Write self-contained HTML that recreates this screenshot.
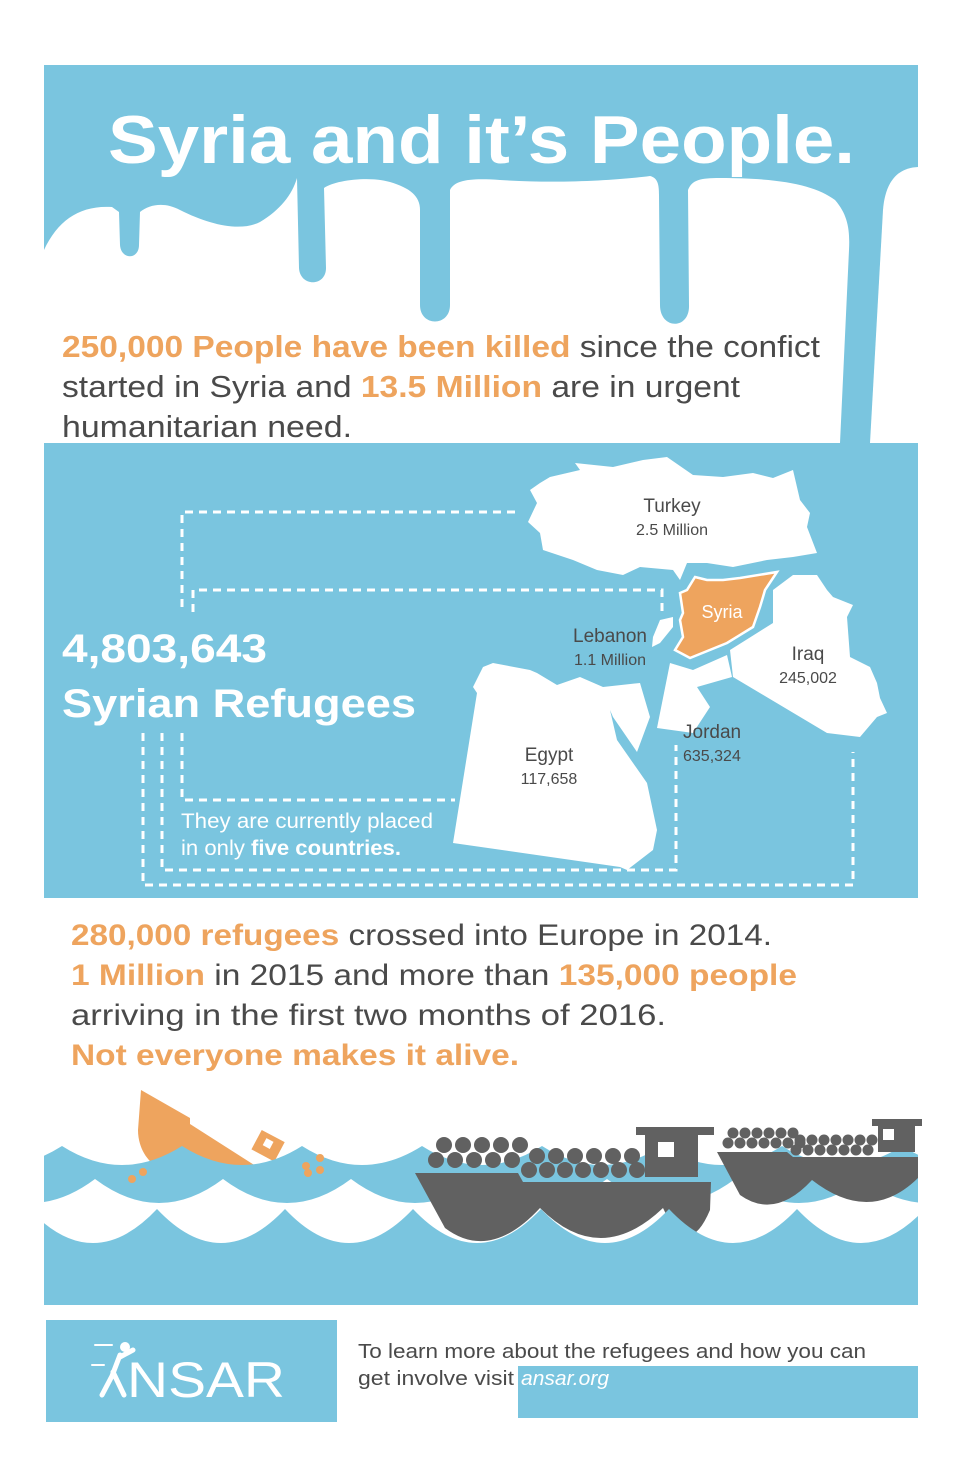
<!DOCTYPE html>
<html><head><meta charset="utf-8"><title>Syria and it's People</title>
<style>
html,body{margin:0;padding:0;background:#fff;}
svg{display:block;font-family:"Liberation Sans",sans-serif;}
</style></head>
<body>
<svg id="info" width="960" height="1484" viewBox="0 0 960 1484" xmlns="http://www.w3.org/2000/svg">
<rect x="0" y="0" width="960" height="1484" fill="#fff"/>

<!-- Header -->
<g>
<rect x="44" y="65" width="874" height="378" fill="#7ac5df"/>
<path fill="#fff" d="M44,443 L44,250 C58,220 80,205 112,207 L119,212 L120,245 C121,260 139,260 139,245 L140,212 C150,204 165,202 180,210 C210,225 240,232 260,222 C280,210 292,195 297,178 L299,268 C300,287 326,287 326,268 L324,188 C335,180 370,176 390,182 C410,188 420,196 420,210 L420,305 C420,327 450,327 450,305 L450,190 C455,180 470,178 500,180 C560,184 620,180 650,176 C658,178 659,185 659,195 L660,305 C660,330 690,330 689,305 L688,190 C692,180 700,178 720,178 C780,178 815,185 835,200 C848,215 850,230 849,250 L840,443 Z"/>
<path fill="#fff" d="M918,167 C895,168 885,185 883,210 L870,443 L918,443 Z"/>
<text x="108" y="163" font-size="68" font-weight="bold" fill="#fff" textLength="747" lengthAdjust="spacingAndGlyphs">Syria and it’s People.</text>
<g font-size="31" fill="#4a4a4a">
<text x="62" y="357" textLength="758" lengthAdjust="spacingAndGlyphs"><tspan fill="#eea45e" font-weight="bold">250,000 People have been killed</tspan> since the confict</text>
<text x="62" y="397" textLength="678" lengthAdjust="spacingAndGlyphs">started in Syria and <tspan fill="#eea45e" font-weight="bold">13.5 Million</tspan> are in urgent</text>
<text x="62" y="437" textLength="290" lengthAdjust="spacingAndGlyphs">humanitarian need.</text>
</g>
</g>

<!-- Map section -->
<g>
<rect x="44" y="443" width="874" height="455" fill="#7ac5df"/>
<g fill="none" stroke="#fff" stroke-width="3" stroke-dasharray="8,6">
<path d="M515,512 L182,512 L182,612"/>
<path d="M193,612 L193,590 L662,590 L662,612"/>
<path d="M182,733 L182,800 L455,800"/>
<path d="M162,733 L162,870 L676,870 L676,745"/>
<path d="M143,733 L143,885 L853,885 L853,752"/>
</g>
<text x="62" y="662" font-size="40" font-weight="bold" fill="#fff" textLength="205" lengthAdjust="spacingAndGlyphs">4,803,643</text>
<text x="62" y="717" font-size="40" font-weight="bold" fill="#fff" textLength="354" lengthAdjust="spacingAndGlyphs">Syrian Refugees</text>
<text x="181" y="828" font-size="21" fill="#fff" textLength="252" lengthAdjust="spacingAndGlyphs">They are currently placed</text>
<text x="181" y="855" font-size="21" fill="#fff" textLength="220" lengthAdjust="spacingAndGlyphs">in only <tspan font-weight="bold">five countries.</tspan></text>

<polygon fill="#fff" points="575,463 613,467 643,460 667,457 693,475 723,477 753,473 773,478 793,470 800,500 810,513 807,527 817,553 793,557 767,560 733,567 707,563 687,563 680,580 673,570 640,567 623,575 597,570 573,560 543,550 540,533 528,522 537,503 530,490 540,483 550,477 580,470"/>
<polygon fill="#fff" points="660,620 673,617 673,627 660,643 652,647 653,637"/>
<polygon fill="#fff" points="793,575 817,575 827,590 833,597 853,605 847,617 850,657 870,667 877,683 880,698 887,713 877,717 860,737 827,733 733,677 730,650 773,623 773,590"/>
<polygon fill="#fff" points="670,663 693,670 727,655 732,677 697,687 710,707 693,733 657,728"/>
<polygon fill="#fff" points="483,667 493,663 530,670 537,673 557,685 580,677 603,687 640,683 650,717 637,752 613,717 610,710 617,740 647,783 657,830 653,850 627,870 620,867 453,843 477,693 473,687"/>
<polygon fill="#eea45e" stroke="#fff" stroke-width="2.5" points="695,577 707,580 723,580 740,578 777,572 773,578 765,590 763,597 760,607 753,627 727,643 690,658 675,650 683,637 680,620 683,613 680,593 687,590"/>
<text x="722" y="618" font-size="18" fill="#fff" text-anchor="middle">Syria</text>
<g id="countryLabels" fill="#4a4a4a"></g>
</g>

<!-- Europe text -->
<g font-size="30" fill="#4a4a4a">
<text x="71" y="945" textLength="701" lengthAdjust="spacingAndGlyphs"><tspan fill="#eea45e" font-weight="bold">280,000 refugees</tspan> crossed into Europe in 2014.</text>
<text x="71" y="985" textLength="726" lengthAdjust="spacingAndGlyphs"><tspan fill="#eea45e" font-weight="bold">1 Million</tspan> in 2015 and more than <tspan fill="#eea45e" font-weight="bold">135,000 people</tspan></text>
<text x="71" y="1025" textLength="595" lengthAdjust="spacingAndGlyphs">arriving in the first two months of 2016.</text>
<text x="71" y="1065" fill="#eea45e" font-weight="bold" textLength="448" lengthAdjust="spacingAndGlyphs">Not everyone makes it alive.</text>
</g>

<!-- Sea -->
<g>
<g>
<path d="M141,1090 L190,1118 L190,1124 L262,1170 L170,1172 C150,1168 138,1150 138,1130 Z" fill="#eea45e"/>
<g transform="rotate(28 268 1148)"><rect x="254" y="1135" width="26" height="22" fill="#eea45e"/><rect x="262" y="1140" width="8" height="8" fill="#fff"/></g>
</g>
<path id="waveTop" fill="#7ac5df"/>
<path id="waveMid" fill="#fff"/>
<g fill="#eea45e">
<circle cx="132" cy="1179" r="4"/><circle cx="143" cy="1172" r="4"/><circle cx="306" cy="1166" r="4"/><circle cx="308" cy="1173" r="4"/><circle cx="320" cy="1170" r="4"/><circle cx="320" cy="1158" r="4"/>
</g>
<g>
<path fill="#616161" d="M415,1173 L518,1173 L523,1182 L711,1182 L710,1210 Q688,1262 663,1208 Q600,1268 540,1208 Q490,1262 445,1228 Z"/>
<path fill="#616161" d="M636,1127 L714,1127 L714,1135 L698,1135 L698,1177 L645,1177 L645,1135 L636,1135 Z"/>
<rect x="658" y="1142" width="16" height="15" fill="#fff"/>
<g id="people1" fill="#616161"></g>
</g>
<g>
<path fill="#616161" d="M717,1152 L787,1152 L793,1157 L918,1157 L918,1178 Q870,1225 812,1180 Q775,1220 740,1195 Z"/>
<path fill="#616161" d="M872,1119 L922,1119 L922,1126 L915,1126 L915,1152 L878,1152 L878,1126 L872,1126 Z"/>
<rect x="883" y="1129" width="11" height="11" fill="#fff"/>
<g id="people2" fill="#616161"></g>
</g>
<path id="waveFront" fill="#7ac5df"/>
</g>

<!-- Footer -->
<g>
<rect x="46" y="1320" width="291" height="102" fill="#7ac5df"/>
<g stroke="#fff" fill="none" stroke-width="5" stroke-linecap="round">
<circle cx="125" cy="1347" r="5" fill="#fff" stroke="none"/>
<path d="M120,1355 L112,1376 L102,1395"/>
<path d="M113,1372 L124,1395"/>
<path d="M120,1357 L133,1350"/>
<path stroke-width="2" d="M95,1345 L112,1345 M92,1365 L104,1365"/>
</g>
<text x="127" y="1397" font-size="50" fill="#fff" textLength="158" lengthAdjust="spacingAndGlyphs">NSAR</text>
<rect x="518" y="1366" width="400" height="52" fill="#7ac5df"/>
<text x="358" y="1358" font-size="20" fill="#4a4a4a" textLength="508" lengthAdjust="spacingAndGlyphs">To learn more about the refugees and how you can</text>
<text x="358" y="1385" font-size="20" fill="#4a4a4a" textLength="156" lengthAdjust="spacingAndGlyphs">get involve visit</text>
<text x="521" y="1385" font-size="20" fill="#fff" font-style="italic" textLength="88" lengthAdjust="spacingAndGlyphs">ansar.org</text>
</g>
</svg>
<script>
const countries = ["Turkey","Lebanon","Iraq","Jordan","Egypt"];
const refugeeCounts = ["2.5 Million","1.1 Million","245,002","635,324","117,658"];
const labelAnchor = [[672,512,"middle"],[610,642,"middle"],[808,660,"middle"],[683,738,"start"],[549,761,"middle"]];
const NS="http://www.w3.org/2000/svg";
const lg=document.getElementById('countryLabels');
countries.forEach((c,i)=>{
  const [x,y,a]=labelAnchor[i];
  const t=document.createElementNS(NS,'text');
  t.setAttribute('x',x);t.setAttribute('y',y);t.setAttribute('font-size','19');t.setAttribute('text-anchor',a);
  t.textContent=c;
  
  
  lg.appendChild(t);
  const v=document.createElementNS(NS,'text');
  v.setAttribute('x',x);v.setAttribute('y',y+23);v.setAttribute('font-size','16');v.setAttribute('text-anchor',a);
  v.textContent=refugeeCounts[i];
  
  
  lg.appendChild(v);
});
function scallop(x0,yp,depth,P,bottom){
  let x=x0; while(x>44) x-=P;
  let s=`M${x},${bottom} L${x},${yp} `;
  while(x<918){ s+=`Q${x+P/2},${yp+2*depth} ${x+P},${yp} `; x+=P; }
  s+=`L${x},${bottom} Z`;
  return s;
}
document.getElementById('waveTop').setAttribute('d',scallop(62,1146,19,120,1305));
document.getElementById('waveMid').setAttribute('d',scallop(95,1179,24,128,1260));
document.getElementById('waveFront').setAttribute('d',scallop(157,1209,34,128,1305));
['waveTop','waveMid','waveFront'].forEach(id=>{document.getElementById(id).setAttribute('clip-path','url(#seaClip)');});
const defs=document.createElementNS(NS,'defs');
defs.innerHTML='<clipPath id="seaClip"><rect x="44" y="1000" width="874" height="305"/></clipPath>';
document.getElementById('info').prepend(defs);
function people(gid,rows,r){
  const g=document.getElementById(gid);
  rows.forEach(([y,x0,n,step])=>{for(let i=0;i<n;i++){const c=document.createElementNS(NS,'circle');c.setAttribute('cx',x0+i*step);c.setAttribute('cy',y);c.setAttribute('r',r);
  
  
  g.appendChild(c);}});
}
people('people1',[[1145,444,5,19],[1160,436,5,19],[1156,537,6,19],[1170,529,7,18]],8);
people('people2',[[1133,733,6,12],[1143,728,7,12],[1140,800,7,12],[1150,796,7,12]],5.5);
</script>
</body></html>
